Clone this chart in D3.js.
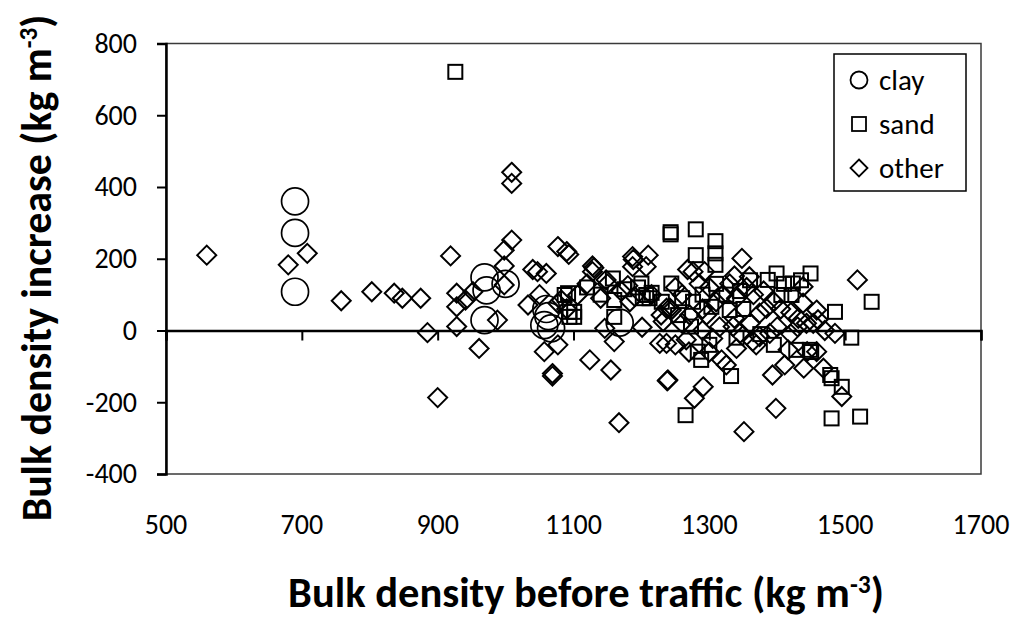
<!DOCTYPE html>
<html>
<head>
<meta charset="utf-8">
<script src="https://cdn.jsdelivr.net/npm/d3@7"></script>
<style>
  html, body { margin: 0; padding: 0; background: #fff; }
  svg { display: block; font-family: Carlito, Lato, sans-serif; }
</style>
</head>
<body>
<svg id="chart" width="1015" height="619"></svg>
<script>
// Bulk density before traffic (x) vs. bulk density increase (y), kg m-3
const clay = [
  [690, 360], [690, 272], [690, 108],
  [969, 148], [972, 112], [1000, 130], [969, 29],
  [1060, 60], [1057, 15], [1067, 6], [1063, 40], [1168, 22]
];

const sand = [
  [926, 721], [1087, 99], [1094, 38], [1101, 38], [1094, 52], [1101, 52],
  [1092, 104], [1160, 85], [1160, 38], [1158, 145], [1202, 90], [1212, 90],
  [1200, 131], [1207, 99], [1243, 268], [1243, 274], [1244, 131], [1280, 282],
  [1309, 249], [1280, 210], [1309, 215], [1309, 183], [1386, 141], [1399, 159],
  [1423, 131], [1449, 159], [1406, 99], [1421, 99], [1254, 43], [1273, 11],
  [1276, 80], [1303, 66], [1330, 57], [1288, -82], [1283, -59], [1265, -236],
  [1332, -127], [1428, -54], [1448, -54], [1485, 52], [1539, 80], [1509, -20],
  [1478, -124], [1480, -133], [1495, -157], [1480, -245], [1522, -240],
  [1120, 120], [1140, 100], [1175, 115], [1195, 120], [1215, 105], [1230, 80],
  [1260, 90], [1290, 100], [1310, 130], [1325, 100], [1345, 110], [1360, 140],
  [1375, -10], [1395, -40], [1340, -20], [1300, -40], [1350, 60], [1410, 130],
  [1435, 140], [1450, -60]
];

const other = [
  [560, 210], [680, 183], [708, 215], [758, 83], [803, 108], [836, 104],
  [848, 90], [875, 90], [885, -6], [900, -187], [919, 208], [928, 104],
  [928, 66], [928, 11], [941, 85], [952, 108], [961, -50], [988, 29],
  [998, 127], [998, 180], [998, 224], [1009, 252], [1009, 441], [1009, 410],
  [1033, 71], [1047, 164], [1060, 159], [1057, -59], [1077, -40], [1069, -127],
  [1069, -120], [1077, 234], [1090, 220], [1093, 212], [1077, 76], [1082, 85],
  [1106, 99], [1124, -82], [1128, 180], [1128, 164], [1146, 6], [1148, 141],
  [1155, -110], [1160, -31], [1167, -257], [1180, 125], [1183, 80], [1187, 206],
  [1187, 178], [1188, 198], [1201, 9], [1207, 178], [1210, 210], [1227, -36],
  [1229, 43], [1237, 62], [1238, -140], [1232, 25], [1237, -36], [1239, -138],
  [1242, 62], [1244, 57], [1266, -26], [1268, 170], [1271, 43], [1276, 164],
  [1278, -189], [1291, -157], [1293, 164], [1296, 43], [1305, -22], [1318, -82],
  [1325, -96], [1335, 11], [1337, 34], [1337, 152], [1345, -8], [1348, 201],
  [1351, -282], [1359, 150], [1364, -30], [1369, -40], [1374, 48], [1374, -17],
  [1384, 62], [1389, -8], [1393, -124], [1398, -217], [1411, -96], [1416, -54],
  [1431, 34], [1438, 122], [1438, 76], [1439, -105], [1443, 20], [1453, 20],
  [1458, 57], [1458, -59], [1444, -59], [1468, -105], [1485, -8], [1495, -184],
  [1518, 141],
  [1130, 175], [1150, 130], [1170, 110], [1190, 95], [1215, 100], [1250, 120],
  [1260, 100], [1285, 130], [1300, 120], [1310, 80], [1320, 100], [1330, 130],
  [1340, 90], [1355, 120], [1365, 100], [1380, 110], [1395, 80], [1405, 60],
  [1420, 50], [1260, 20], [1290, 0], [1315, 10], [1340, -50], [1300, -60],
  [1270, -60], [1250, -40], [1360, 20], [1400, 10], [1420, -10], [1430, 10],
  [1460, 30], [1470, 0], [1290, 60], [1140, 90], [1120, 130], [1090, 60],
  [1050, 100], [1040, 170]
];

const xTicks = [500, 700, 900, 1100, 1300, 1500, 1700];
const yTicks = [-400, -200, 0, 200, 400, 600, 800];
const seriesNames = ["clay", "sand", "other"];

const svg = d3.select("#chart");
const plot = { left: 166, right: 981, top: 43.5, bottom: 474 };

const x = d3.scaleLinear().domain([500, 1700]).range([plot.left, plot.right]);
const y = d3.scaleLinear().domain([-400, 800]).range([plot.bottom, plot.top]);

// plain hyphen-minus for negative tick values
const fmt = d => String(d);

svg.append("rect").attr("width", 1015).attr("height", 619).attr("fill", "#fff");

// plot frame
svg.append("rect")
  .attr("x", plot.left).attr("y", plot.top)
  .attr("width", plot.right - plot.left).attr("height", plot.bottom - plot.top)
  .attr("fill", "none").attr("stroke", "#3a3a3a").attr("stroke-width", 1.5);

// markers
const sym = {
  circle: (g, d) => g.append("circle").attr("cx", x(d[0])).attr("cy", y(d[1])).attr("r", 13.5),
  square: (g, d) => g.append("rect").attr("x", x(d[0]) - 7).attr("y", y(d[1]) - 7).attr("width", 14).attr("height", 14),
  diamond: (g, d) => g.append("path").attr("d",
    `M${x(d[0])},${y(d[1]) - 9.5}L${x(d[0]) + 9.5},${y(d[1])}L${x(d[0])},${y(d[1]) + 9.5}L${x(d[0]) - 9.5},${y(d[1])}Z`)
};

const marks = svg.append("g").attr("fill", "none").attr("stroke", "#000").attr("stroke-width", 2);
clay.forEach(d => sym.circle(marks, d).attr("stroke-width", 1.7));
sand.forEach(d => sym.square(marks, d));
other.forEach(d => sym.diamond(marks, d));

// y axis
const yAxis = svg.append("g").attr("transform", `translate(${plot.left},0)`)
  .call(d3.axisLeft(y).tickValues(yTicks).tickSize(9).tickPadding(20).tickFormat(fmt));
yAxis.select(".domain").attr("stroke", "#000").attr("stroke-width", 2.5);
yAxis.selectAll(".tick line").attr("stroke", "#000").attr("stroke-width", 2);
yAxis.selectAll(".tick text").attr("font-size", 28).attr("fill", "#000")
  .attr("font-family", "Carlito, Lato, sans-serif");

// x axis along zero line, labels at bottom
const xAxis = svg.append("g").attr("transform", `translate(0,${y(0)})`)
  .call(d3.axisBottom(x).tickValues(xTicks).tickSize(10).tickFormat(() => ""));
xAxis.select(".domain").attr("stroke", "#000").attr("stroke-width", 2.5);
xAxis.selectAll(".tick line").attr("stroke", "#000").attr("stroke-width", 2);

svg.append("g").selectAll("text").data(xTicks).join("text")
  .attr("x", d => x(d)).attr("y", 534)
  .attr("text-anchor", "middle").attr("font-size", 28).attr("fill", "#000")
  .text(fmt);

// axis titles, sized to a given run length
function fitWidth(sel, target) {
  const w = sel.node().getComputedTextLength();
  const fs = +sel.attr("font-size");
  sel.attr("font-size", fs * target / w);
}

const xt = svg.append("text")
  .attr("x", 586).attr("y", 607).attr("text-anchor", "middle")
  .attr("font-size", 40).attr("font-weight", "bold").attr("fill", "#000");
xt.append("tspan").text("Bulk density before traffic (kg m");
xt.append("tspan").attr("dy", -14).attr("font-size", "0.6em").text("-3");
xt.append("tspan").attr("dy", 14).text(")");
fitWidth(xt, 596);

const yt = svg.append("text")
  .attr("transform", "translate(51,268) rotate(-90)").attr("text-anchor", "middle")
  .attr("font-size", 40).attr("font-weight", "bold").attr("fill", "#000");
yt.append("tspan").text("Bulk density increase (kg m");
yt.append("tspan").attr("dy", -14).attr("font-size", "0.6em").text("-3");
yt.append("tspan").attr("dy", 14).text(")");
fitWidth(yt, 507);

// legend
const lg = svg.append("g");
lg.append("rect").attr("x", 834).attr("y", 54).attr("width", 132).attr("height", 137)
  .attr("fill", "#fff").attr("stroke", "#000").attr("stroke-width", 1.5);
const lx = 859, ly = [80, 124, 168];
const lm = lg.append("g").attr("fill", "none").attr("stroke", "#000").attr("stroke-width", 1.8);
lm.append("circle").attr("cx", lx).attr("cy", ly[0]).attr("r", 8.5);
lm.append("rect").attr("x", lx - 7).attr("y", ly[1] - 7).attr("width", 14).attr("height", 14);
lm.append("path").attr("d", `M${lx},${ly[2] - 8.5}L${lx + 8.5},${ly[2]}L${lx},${ly[2] + 8.5}L${lx - 8.5},${ly[2]}Z`);
lg.selectAll("text.lt").data(seriesNames).join("text").attr("class", "lt")
  .attr("x", 879).attr("y", (d, i) => ly[i] + 10)
  .attr("font-size", 29).attr("fill", "#000").text(d => d);
</script>
</body>
</html>
